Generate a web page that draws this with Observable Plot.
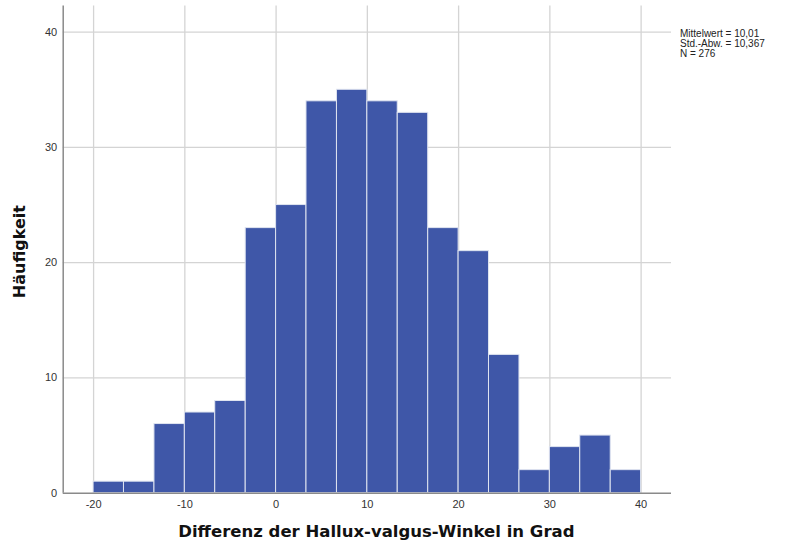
<!DOCTYPE html>
<html>
<head>
<meta charset="utf-8">
<script src="https://cdn.jsdelivr.net/npm/d3@7"></script>
<script src="https://cdn.jsdelivr.net/npm/@observablehq/plot@0.6"></script>
<style>
  html, body { margin: 0; padding: 0; background: #fff; }
  #wrap { position: relative; width: 793px; height: 549px; }
  #stats { position: absolute; left: 680px; top: 29px; font-family: "Liberation Sans", Arial, sans-serif; font-size: 10px; line-height: 10px; color: #222; }
  #stats div { height: 10px; line-height: 10px; }
</style>
</head>
<body>
<div id="wrap"><div id="stats"></div></div>
<script>
// Histogram data
const binStarts = [-20, -16.67, -13.33, -10, -6.67, -3.33, 0, 3.33, 6.67, 10, 13.33, 16.67, 20, 23.33, 26.67, 30, 33.33, 36.67];
const binEnds   = [-16.67, -13.33, -10, -6.67, -3.33, 0, 3.33, 6.67, 10, 13.33, 16.67, 20, 23.33, 26.67, 30, 33.33, 36.67, 40];
const counts    = [1, 1, 6, 7, 8, 23, 25, 34, 35, 34, 33, 23, 21, 12, 2, 4, 5, 2];
const xTicks = [-20, -10, 0, 10, 20, 30, 40];
const yTicks = [0, 10, 20, 30, 40];
const xDomain = [-23.33, 43.33];
const yDomain = [0, 42.27];
const statsLines = ["Mittelwert = 10,01", "Std.-Abw. = 10,367", "N = 276"];
const xLabel = "Differenz der Hallux-valgus-Winkel in Grad";
const yLabel = "Häufigkeit";

const bins = counts.map((c, i) => ({x1: binStarts[i], x2: binEnds[i], count: c}));

const chart = Plot.plot({
  width: 793,
  height: 549,
  marginLeft: 62.7,
  marginRight: 122,
  marginTop: 5.5,
  marginBottom: 56.3,
  style: {fontFamily: "'Liberation Sans', Arial, sans-serif", fontSize: "11px", color: "#333", background: "#fff"},
  x: {domain: xDomain, ticks: xTicks, tickFormat: d => String(d), tickSize: 0, tickPadding: 7, label: null},
  y: {domain: yDomain, ticks: yTicks, tickFormat: d => String(d), tickSize: 0, tickPadding: 6, label: null},
  marks: [
    Plot.ruleX(xTicks, {stroke: "#d4d4d4", strokeWidth: 1.3, strokeOpacity: 1}),
    Plot.ruleY(yTicks.filter(d => d > 0), {stroke: "#d4d4d4", strokeWidth: 1.3, strokeOpacity: 1}),
    Plot.rectY(bins, {x1: "x1", x2: "x2", y: "count", fill: "#3f57a8", stroke: "#dfe4f0", strokeWidth: 1}),
    Plot.ruleX([xDomain[0]], {stroke: "#8a8a8a", strokeWidth: 1.5}),
    Plot.ruleY([0], {stroke: "#8a8a8a", strokeWidth: 1.5}),
    Plot.axisX({ticks: xTicks, tickFormat: d => String(d), tickSize: 0, tickPadding: 7, label: null, fill: "#333"}),
    Plot.axisY({ticks: yTicks, tickFormat: d => String(d), tickSize: 0, tickPadding: 6, label: null, fill: "#333"}),
    Plot.text([xLabel], {frameAnchor: "bottom", dy: 44, dx: 9, fontSize: 16.5, fontWeight: "bold", fill: "#111", fontFamily: "'DejaVu Sans', sans-serif", textAnchor: "middle"}),
    Plot.text([yLabel], {frameAnchor: "left", dx: -43, dy: 2, rotate: -90, fontSize: 16, fontWeight: "bold", fill: "#111", fontFamily: "'DejaVu Sans', sans-serif", textAnchor: "middle"})
  ]
});
document.getElementById("wrap").prepend(chart);
const statsEl = document.getElementById("stats");
statsLines.forEach(s => { const d = document.createElement("div"); d.textContent = s; statsEl.appendChild(d); });
</script>
</body>
</html>
